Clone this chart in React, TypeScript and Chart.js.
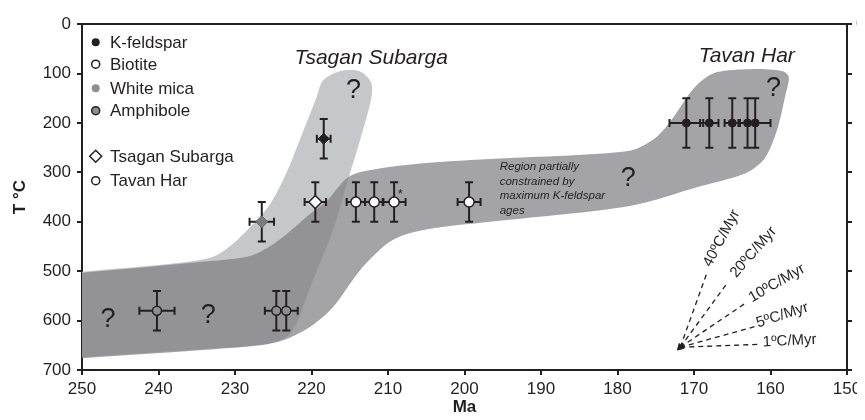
import React, { useEffect, useRef } from 'react';
import { Chart, registerables } from 'chart.js';

Chart.register(...registerables);

const FONT = '"Liberation Sans", Arial, Helvetica, sans-serif';
const INK = '#231f20';

// Axes
const xTicks = [250, 240, 230, 220, 210, 200, 190, 180, 170, 160, 150];
const yTicks = [0, 100, 200, 300, 400, 500, 600, 700];

// Tsagan Subarga samples (age Ma, temperature °C, errors)
const tsKfsAge = [218.4];
const tsKfsTemp = [232];
const tsKfsAgeErr = [0.9];
const tsKfsTempErr = [40];

const tsBtAge = [219.5];
const tsBtTemp = [360];
const tsBtAgeErr = [1.4];
const tsBtTempErr = [40];

const tsWmAge = [226.5];
const tsWmTemp = [400];
const tsWmAgeErr = [1.6];
const tsWmTempErr = [40];

// Tavan Har samples
const thKfsAge = [171, 168, 165, 163, 162];
const thKfsTemp = [200, 200, 200, 200, 200];
const thKfsAgeErr = [2.2, 1.2, 1.0, 1.2, 2.0];
const thKfsTempErr = [50, 50, 50, 50, 50];

const thBtAge = [214.2, 211.8, 209.2, 199.4];
const thBtTemp = [360, 360, 360, 360];
const thBtAgeErr = [1.2, 1.2, 1.5, 1.5];
const thBtTempErr = [40, 40, 40, 40];

const thAmpAge = [240.2, 224.6, 223.3];
const thAmpTemp = [580, 580, 580];
const thAmpAgeErr = [2.3, 1.5, 1.5];
const thAmpTempErr = [40, 40, 40];

// Cooling envelopes (outline, age / temperature)
const tsRegionAge = [250, 237.2, 232.9, 230.3, 227.6, 225.4, 223.2, 221.1, 219.4, 218.5, 216.3, 213.7, 212.2, 212.2, 213.7, 215.4, 217.2, 219.3, 220.8, 221.9, 223.2, 226.1, 234.6, 250];
const tsRegionTemp = [501, 483, 471, 445, 404, 364, 298, 217, 151, 114, 95, 95, 118, 151, 237, 324, 418, 499, 559, 604, 632, 648, 658, 674];

const thRegionAge = [250, 241.1, 232.9, 228.0, 225.8, 223.2, 220.2, 218.0, 215.4, 213.3, 205.8, 195.4, 178.4, 175.1, 172.9, 170.8, 169.2, 167.0, 162.7, 158.4, 157.6, 158.1, 159.0, 160.1, 161.1, 163.3, 169.2, 178.4, 195.4, 203.6, 207.8, 210.2, 213.7, 217.2, 220.2, 223.7, 226.7, 234.6, 250];
const thRegionTemp = [503, 491, 479, 469, 453, 424, 384, 358, 312, 298, 282, 272, 256, 231, 193, 145, 117, 97, 91, 95, 107, 147, 207, 253, 278, 302, 328, 368, 398, 412, 426, 445, 499, 573, 613, 640, 650, 660, 676];

// Cooling-rate guide
const coolOriginAge = 171.8;
const coolOriginTemp = 654;
const coolEndAge = [161.4, 162.0, 163.3, 165.6, 168.3];
const coolEndTemp = [648, 612, 565, 523, 503];
const coolLabels = ['1ºC/Myr', '5ºC/Myr', '10ºC/Myr', '20ºC/Myr', '40ºC/Myr'];
const coolLabelAge = [161.0, 161.8, 162.7, 164.9, 168.3];
const coolLabelTemp = [644, 606, 556, 509, 489];
const coolLabelAngle = [-3, -18, -30, -49, -62];

// Question marks
const qAge = [246.6, 233.5, 214.5, 159.6, 178.6];
const qTemp = [613, 605, 150, 145, 328];

// Region titles
const titleText = ['Tsagan Subarga', 'Tavan Har'];
const titleAge = [212.2, 163.1];
const titleTemp = [80, 76];

// Note
const noteLines = ['Region partially', 'constrained by', 'maximum K-feldspar', 'ages'];
const noteAge = 195.4;
const noteTemp = 296;

const starAge = 208.4;
const starTemp = 344;

// Legend
const legendLabels = ['K-feldspar', 'Biotite', 'White mica', 'Amphibole', 'Tsagan Subarga', 'Tavan Har'];
const legendMarkers = ['dotBlack', 'circleWhite', 'dotGray', 'circleGray', 'diamondOpen', 'circleOpen'];
const legendRowY = [18, 40, 64, 86.5, 132, 156.5];

const pts = (ages: number[], temps: number[]) => ages.map((a, i) => ({ x: a, y: temps[i] }));

function buildBars() {
  const series = [
    [tsKfsAge, tsKfsTemp, tsKfsAgeErr, tsKfsTempErr],
    [tsBtAge, tsBtTemp, tsBtAgeErr, tsBtTempErr],
    [tsWmAge, tsWmTemp, tsWmAgeErr, tsWmTempErr],
    [thKfsAge, thKfsTemp, thKfsAgeErr, thKfsTempErr],
    [thBtAge, thBtTemp, thBtAgeErr, thBtTempErr],
    [thAmpAge, thAmpTemp, thAmpAgeErr, thAmpTempErr],
  ];
  const v: any[] = [];
  const h: any[] = [];
  for (const [ages, temps, aErr, tErr] of series) {
    ages.forEach((a, i) => {
      v.push({ x: a, y: temps[i] - tErr[i] }, { x: a, y: temps[i] + tErr[i] }, { x: a, y: null });
      h.push({ x: a - aErr[i], y: temps[i] }, { x: a + aErr[i], y: temps[i] }, { x: a, y: null });
    });
  }
  return { v, h };
}

function drawLegendMarker(ctx: CanvasRenderingContext2D, kind: string, x: number, y: number) {
  ctx.save();
  ctx.lineWidth = 1.5;
  ctx.strokeStyle = INK;
  ctx.beginPath();
  if (kind === 'diamondOpen') {
    ctx.moveTo(x - 6, y);
    ctx.lineTo(x, y - 6);
    ctx.lineTo(x + 6, y);
    ctx.lineTo(x, y + 6);
    ctx.closePath();
    ctx.fillStyle = '#fff';
    ctx.fill();
    ctx.stroke();
  } else {
    ctx.arc(x, y, 4, 0, Math.PI * 2);
    if (kind === 'dotBlack') { ctx.fillStyle = INK; ctx.fill(); }
    else if (kind === 'dotGray') { ctx.fillStyle = '#8d8e90'; ctx.fill(); }
    else if (kind === 'circleGray') { ctx.fillStyle = '#8d8e90'; ctx.fill(); ctx.stroke(); }
    else { ctx.fillStyle = '#fff'; ctx.fill(); ctx.stroke(); }
  }
  ctx.restore();
}

const notesPlugin = {
  id: 'notes',
  afterDatasetsDraw(chart: any) {
    const { ctx, chartArea: ca, scales } = chart;
    const px = (a: number) => scales.x.getPixelForValue(a);
    const py = (t: number) => scales.y.getPixelForValue(t);
    ctx.save();
    ctx.fillStyle = INK;

    ctx.font = `27px ${FONT}`;
    ctx.textAlign = 'center';
    ctx.textBaseline = 'alphabetic';
    qAge.forEach((a, i) => ctx.fillText('?', px(a), py(qTemp[i])));

    ctx.font = `italic 21px ${FONT}`;
    titleText.forEach((s, i) => ctx.fillText(s, px(titleAge[i]), py(titleTemp[i])));

    ctx.font = `italic 11.5px ${FONT}`;
    ctx.textAlign = 'left';
    noteLines.forEach((s, i) => ctx.fillText(s, px(noteAge), py(noteTemp) + i * 14.5));

    ctx.font = `13px ${FONT}`;
    ctx.textAlign = 'center';
    ctx.textBaseline = 'middle';
    ctx.fillText('*', px(starAge), py(starTemp));

    ctx.font = `15px ${FONT}`;
    ctx.textAlign = 'left';
    coolLabels.forEach((s, i) => {
      ctx.save();
      ctx.translate(px(coolLabelAge[i]), py(coolLabelTemp[i]));
      ctx.rotate((coolLabelAngle[i] * Math.PI) / 180);
      ctx.fillText(s, 0, 0);
      ctx.restore();
    });

    ctx.font = `17px ${FONT}`;
    ctx.textAlign = 'left';
    ctx.textBaseline = 'middle';
    legendLabels.forEach((s, i) => {
      const yy = ca.top + legendRowY[i];
      drawLegendMarker(ctx, legendMarkers[i], ca.left + 13.7, yy);
      ctx.fillStyle = INK;
      ctx.fillText(s, ca.left + 28, yy + 1);
    });
    ctx.restore();
  },
};

export default function App() {
  const ref = useRef<HTMLCanvasElement | null>(null);
  useEffect(() => {
    if (!ref.current) return;
    const { v, h } = buildBars();
    const coolData: any[] = [];
    coolEndAge.forEach((a, i) => {
      coolData.push({ x: coolOriginAge, y: coolOriginTemp }, { x: a, y: coolEndTemp[i] }, { x: a, y: null });
    });
    const tickFont = { family: FONT, size: 17 };
    const markerBase = { type: 'line', showLine: false, order: 0 };
    const chart = new Chart(ref.current, {
      type: 'scatter',
      data: {
        datasets: [
          { ...markerBase, data: pts(thKfsAge, thKfsTemp), pointStyle: 'circle', pointRadius: 4, pointBackgroundColor: INK, pointBorderColor: INK, pointBorderWidth: 1 },
          { ...markerBase, data: pts(tsKfsAge, tsKfsTemp), pointStyle: 'rectRot', pointRadius: 5.5, pointBackgroundColor: INK, pointBorderColor: INK, pointBorderWidth: 1 },
          { ...markerBase, data: pts(thBtAge, thBtTemp), pointStyle: 'circle', pointRadius: 5, pointBackgroundColor: '#ffffff', pointBorderColor: INK, pointBorderWidth: 1.5 },
          { ...markerBase, data: pts(tsBtAge, tsBtTemp), pointStyle: 'rectRot', pointRadius: 6.5, pointBackgroundColor: '#ffffff', pointBorderColor: INK, pointBorderWidth: 1.5 },
          { ...markerBase, data: pts(tsWmAge, tsWmTemp), pointStyle: 'rectRot', pointRadius: 6, pointBackgroundColor: '#7b7c7e', pointBorderColor: '#6a6b6d', pointBorderWidth: 1 },
          { ...markerBase, data: pts(thAmpAge, thAmpTemp), pointStyle: 'circle', pointRadius: 4.5, pointBackgroundColor: '#8e8f91', pointBorderColor: INK, pointBorderWidth: 1.5 },
          { type: 'line', data: v, borderColor: INK, borderWidth: 2, pointStyle: 'line', pointRadius: 4, pointBorderWidth: 2, pointBorderColor: INK, pointRotation: 0, spanGaps: false, order: 1 },
          { type: 'line', data: h, borderColor: INK, borderWidth: 2, pointStyle: 'line', pointRadius: 4, pointBorderWidth: 2, pointBorderColor: INK, pointRotation: 90, spanGaps: false, order: 1 },
          { type: 'line', data: coolData, borderColor: INK, borderWidth: 1.3, borderDash: [5, 4], pointRadius: 0, spanGaps: false, order: 2 },
          { type: 'line', showLine: false, data: [{ x: coolOriginAge, y: coolOriginTemp }], pointStyle: 'triangle', pointRotation: 225, pointRadius: 4, pointBackgroundColor: INK, pointBorderColor: INK, pointBorderWidth: 1, order: 2 },
          { type: 'line', data: pts(thRegionAge, thRegionTemp), fill: 'shape', backgroundColor: 'rgba(125,126,128,0.7)', borderColor: 'rgba(0,0,0,0)', borderWidth: 0, pointRadius: 0, tension: 0.3, order: 8 },
          { type: 'line', data: pts(tsRegionAge, tsRegionTemp), fill: 'shape', backgroundColor: '#c6c7c9', borderColor: 'rgba(0,0,0,0)', borderWidth: 0, pointRadius: 0, tension: 0.3, order: 9 },
        ] as any,
      },
      options: {
        animation: false,
        responsive: false,
        events: [],
        layout: { padding: 0 },
        plugins: { legend: { display: false }, tooltip: { enabled: false } },
        scales: {
          x: {
            type: 'linear', position: 'bottom', reverse: true, min: 150, max: 250,
            afterBuildTicks: (s: any) => { s.ticks = xTicks.map((t) => ({ value: t })); },
            ticks: { font: tickFont, color: INK, padding: 4, maxRotation: 0, autoSkip: false },
            grid: { drawOnChartArea: false, drawTicks: true, tickLength: 5, color: INK, lineWidth: 2 },
            border: { display: true, color: INK, width: 2 },
            title: { display: true, text: 'Ma', color: INK, font: { family: FONT, size: 17, weight: 'bold' }, padding: { top: 0, bottom: 2 } },
            afterFit: (s: any) => { s.height = 50; },
          },
          xTop: {
            type: 'linear', position: 'top', reverse: true, min: 150, max: 250,
            ticks: { display: false },
            grid: { display: false },
            border: { display: true, color: INK, width: 2 },
            afterFit: (s: any) => { s.height = 14; },
          },
          y: {
            type: 'linear', position: 'left', reverse: true, min: 0, max: 700,
            afterBuildTicks: (s: any) => { s.ticks = yTicks.map((t) => ({ value: t })); },
            ticks: { font: tickFont, color: INK, padding: 6, autoSkip: false },
            grid: { drawOnChartArea: false, drawTicks: true, tickLength: 5, color: INK, lineWidth: 2 },
            border: { display: true, color: INK, width: 2 },
            title: { display: true, text: 'T °C', color: INK, font: { family: FONT, size: 17, weight: 'bold' }, padding: { top: 2, bottom: 0 } },
            afterFit: (s: any) => { s.width = 74; },
          },
          yRight: {
            type: 'linear', position: 'right', reverse: true, min: 0, max: 700,
            afterBuildTicks: (s: any) => { s.ticks = yTicks.map((t) => ({ value: t })); },
            ticks: { font: tickFont, color: INK, padding: 4, autoSkip: false, callback: (val: any) => (val === 0 ? '0' : '') },
            grid: { drawOnChartArea: false, drawTicks: true, tickLength: 5, color: INK, lineWidth: 2 },
            border: { display: true, color: INK, width: 2 },
            afterFit: (s: any) => { s.width = 41; },
          },
        },
      } as any,
      plugins: [notesPlugin],
    });
    return () => chart.destroy();
  }, []);

  return (
    <div style={{ width: 857, height: 412, overflow: 'hidden' }}>
      <canvas ref={ref} width={880} height={412} style={{ display: 'block' }} />
    </div>
  );
}
